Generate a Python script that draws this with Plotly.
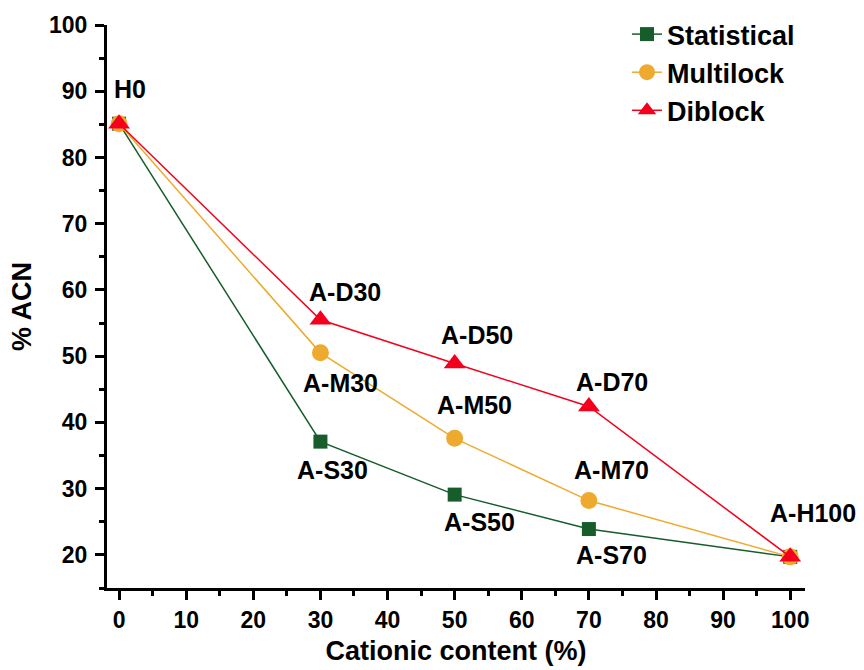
import plotly.graph_objects as go

# Cationic content (%) and %ACN for each copolymer architecture
cationic = [0, 30, 50, 70, 100]
statistical = [85.1, 37.1, 29.1, 23.9, 19.7]
multiblock = [85.1, 50.5, 37.6, 28.2, 19.7]
diblock = [85.1, 55.5, 48.9, 42.4, 19.7]

stat_labels = ["", "A-S30", "A-S50", "A-S70", ""]
multi_labels = ["", "A-M30", "A-M50", "A-M70", ""]
di_labels = ["H0", "A-D30", "A-D50", "A-D70", "A-H100"]

x_ticks = [0, 10, 20, 30, 40, 50, 60, 70, 80, 90, 100]
y_ticks = [20, 30, 40, 50, 60, 70, 80, 90, 100]

FONT = "Arial, Liberation Sans, sans-serif"
GREEN = "#175c2b"
ORANGE = "#eeaa2e"
RED = "#f5001c"

fig = go.Figure()
fig.add_trace(go.Scatter(
    x=cationic, y=statistical, name="<b>Statistical</b>", mode="lines+markers",
    line=dict(color=GREEN, width=1.5),
    marker=dict(symbol="square", size=14, color=GREEN)))
fig.add_trace(go.Scatter(
    x=cationic, y=multiblock, name="<b>Multilock</b>", mode="lines+markers",
    line=dict(color=ORANGE, width=1.5),
    marker=dict(symbol="circle", size=17, color=ORANGE)))
fig.add_trace(go.Scatter(
    x=cationic, y=diblock, name="<b>Diblock</b>", mode="lines+markers",
    line=dict(color=RED, width=1.5),
    marker=dict(symbol="triangle-up", size=19, color=RED)))

# point label offsets in px: (xshift, yshift)
label_shifts = {
    "H0": (11, 35), "A-D30": (25, 28), "A-D50": (22, 28), "A-D70": (23, 25),
    "A-H100": (23, 44),
    "A-M30": (20, -30), "A-M50": (20, 33), "A-M70": (23, 31),
    "A-S30": (12, -28), "A-S50": (25, -27), "A-S70": (23, -26),
}
for xs, ys, labels in [(cationic, diblock, di_labels),
                       (cationic, multiblock, multi_labels),
                       (cationic, statistical, stat_labels)]:
    for xv, yv, lab in zip(xs, ys, labels):
        if not lab:
            continue
        dx, dy = label_shifts[lab]
        fig.add_annotation(x=xv, y=yv, text="<b>%s</b>" % lab, showarrow=False,
                           xshift=dx, yshift=dy,
                           font=dict(family=FONT, size=25, color="black"))

axis_common = dict(
    showline=True, linewidth=3, linecolor="black", mirror=False,
    ticks="outside", ticklen=9, tickwidth=3, tickcolor="black",
    showgrid=False, zeroline=False, automargin=False,
    tickfont=dict(family=FONT, size=23, color="black"),
)
minor_ticks = dict(dtick=5, ticklen=5, tickwidth=3, tickcolor="black",
                   ticks="outside")

fig.update_xaxes(
    range=[-1.8, 102.2], tickmode="array", tickvals=x_ticks,
    ticktext=["<b>%d</b>" % v for v in x_ticks],
    minor=minor_ticks,
    title=dict(text="<b>Cationic content (%)</b>", standoff=10,
               font=dict(family=FONT, size=27, color="black")),
    **axis_common)
fig.update_yaxes(
    range=[15, 100], tickmode="array", tickvals=y_ticks,
    ticktext=["<b>%d</b>" % v for v in y_ticks],
    minor=dict(tick0=15, **minor_ticks),
    ticklabelstandoff=3,
    title=dict(text="<b>% ACN</b>", standoff=10,
               font=dict(family=FONT, size=27, color="black")),
    **axis_common)

fig.update_layout(
    width=864, height=670,
    margin=dict(l=107, r=59, t=25, b=82, autoexpand=False),
    plot_bgcolor="white", paper_bgcolor="white",
    legend=dict(xref="container", yref="container",
                x=0.7257, y=0.985, xanchor="left", yanchor="top",
                bgcolor="rgba(0,0,0,0)",
                font=dict(family=FONT, size=27, color="black")),
)

fig.write_html("out.html")
